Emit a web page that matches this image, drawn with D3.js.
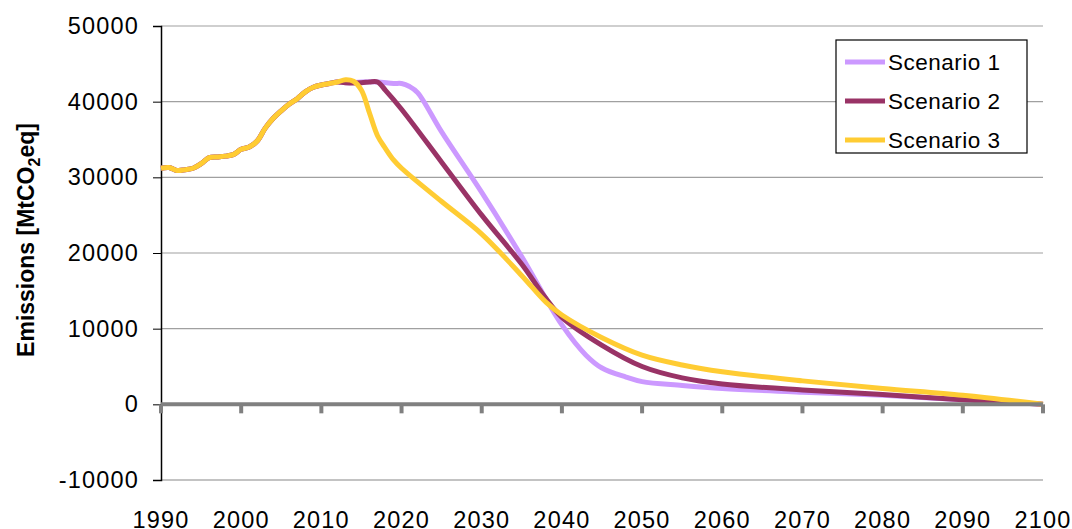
<!DOCTYPE html><html><head><meta charset="utf-8"><script src="https://cdn.jsdelivr.net/npm/d3@7"></script>
<style>body{margin:0;background:#fff}text{font-family:"Liberation Sans",Arial,sans-serif}</style></head><body>
<svg id="c" width="1072" height="529"></svg>
<script>
const historyYears=[1990,1991,1992,1993,1994,1995,1996,1997,1998,1999,2000,2001,2002,2003,2004,2005,2006,2007,2008,2009,2010,2011,2012];
const historyVals=[31200,31300,30900,31000,31200,31800,32600,32700,32800,33000,33700,34000,34800,36500,37800,38800,39700,40400,41300,41900,42200,42400,42600];
const s1Years=[2013,2015,2017,2019,2020,2021,2022,2025,2030,2035,2040,2043,2045,2048,2050,2055,2060,2070,2080,2090,2100];
const s1Vals=[42500,42600,42600,42400,42400,42000,41200,36000,28000,19500,10500,6500,4800,3600,3000,2500,2100,1600,1200,600,0];
const s2Years=[2013,2015,2016,2017,2018,2020,2025,2030,2035,2038,2040,2045,2050,2055,2060,2070,2080,2090,2100];
const s2Vals=[42500,42500,42600,42600,41500,39000,32000,25000,18500,14000,11500,7800,5000,3500,2700,1900,1300,600,0];
const s3Years=[2013,2014,2015,2016,2017,2018,2019,2020,2025,2030,2035,2038,2040,2045,2050,2055,2060,2070,2080,2090,2100];
const s3Vals=[42900,42700,41500,38500,35500,33800,32300,31200,26800,22500,17000,13500,11800,8800,6500,5200,4300,3100,2100,1200,0];
const names=["Scenario 1","Scenario 2","Scenario 3"];
const colors=["#cc99ff","#993366","#ffcc33"];
const xTicks=d3.range(1990,2101,10), yTicks=d3.range(-10000,50001,10000);

const svg=d3.select("#c");
const x=d3.scaleLinear().domain([1990,2100]).range([161,1043]);
const y=d3.scaleLinear().domain([-10000,50000]).range([480,26]);
svg.selectAll(".g").data(yTicks.filter(v=>v!==0&&v!==-10000)).join("line")
 .attr("x1",161).attr("x2",1043).attr("y1",d=>y(d)).attr("y2",d=>y(d)).attr("stroke","#a0a0a0").attr("stroke-width",1.2);
svg.append("line").attr("x1",161).attr("x2",1043).attr("y1",y(-10000)).attr("y2",y(-10000)).attr("stroke","#888").attr("stroke-width",1.2);
const ya=svg.append("g").attr("transform","translate(161,0)").call(d3.axisLeft(y).tickValues(yTicks).tickSize(8).tickPadding(14).tickFormat(d=>String(d)));
ya.select(".domain").attr("stroke","#000").attr("stroke-width",1.5);
ya.selectAll("text").attr("font-size",23.5).attr("letter-spacing",1.2).attr("fill","#000").attr("font-family","Liberation Sans, Arial");
svg.selectAll(".xl").data(xTicks).join("text").attr("x",d=>x(d)).attr("y",528).attr("text-anchor","middle").attr("font-size",23.5).attr("letter-spacing",1.2).text(d=>d);
const line=d3.line().x(d=>x(d[0])).y(d=>y(d[1])).curve(d3.curveCatmullRom);
const hist=historyYears.map((d,i)=>[d,historyVals[i]]);
const series=[[s1Years,s1Vals],[s2Years,s2Vals],[s3Years,s3Vals]].map(([ys,vs])=>hist.concat(ys.map((d,i)=>[d,vs[i]])));
series.forEach((s,i)=>svg.append("path").datum(s).attr("d",line).attr("fill","none").attr("stroke",colors[i]).attr("stroke-width",5).attr("stroke-linejoin","round"));
svg.append("line").attr("x1",161).attr("x2",1043).attr("y1",y(0)).attr("y2",y(0)).attr("stroke","#808080").attr("stroke-width",4);
svg.selectAll(".xt").data(xTicks).join("line").attr("x1",d=>x(d)).attr("x2",d=>x(d)).attr("y1",y(0)).attr("y2",y(0)+9).attr("stroke","#808080").attr("stroke-width",4);
svg.append("text").attr("transform","translate(34,240) rotate(-90)").attr("text-anchor","middle").attr("font-size",23).attr("font-weight","bold")
 .html('Emissions [MtCO<tspan font-size="16" dy="6">2</tspan><tspan dy="-6">eq]</tspan>');
svg.append("rect").attr("x",836).attr("y",40).attr("width",191).attr("height",113).attr("fill","#fff").attr("stroke","#000").attr("stroke-width",1.2);
names.forEach((n,i)=>{const yy=62+i*39;
 svg.append("line").attr("x1",845).attr("x2",885).attr("y1",yy).attr("y2",yy).attr("stroke",colors[i]).attr("stroke-width",5);
 svg.append("text").attr("x",888).attr("y",yy+8).attr("font-size",22.5).attr("letter-spacing",0.5).text(n);});
</script></body></html>
